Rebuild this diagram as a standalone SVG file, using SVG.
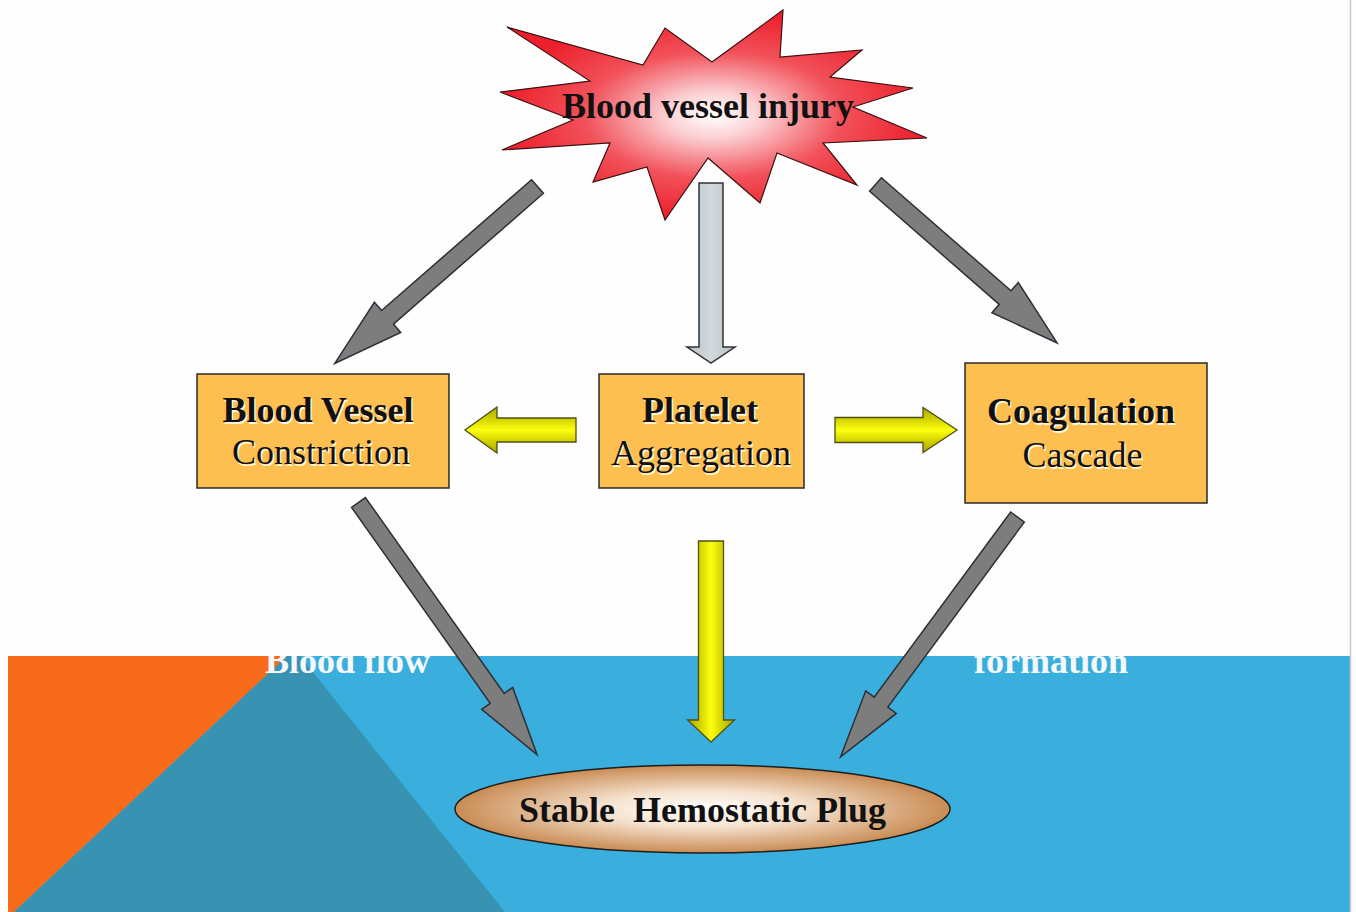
<svg xmlns="http://www.w3.org/2000/svg" width="1356" height="912" viewBox="0 0 1356 912">
  <defs>
    <radialGradient id="starGrad" cx="0.5" cy="0.5" r="0.5">
      <stop offset="0" stop-color="#ffffff"/>
      <stop offset="0.22" stop-color="#fbd0d3"/>
      <stop offset="0.6" stop-color="#f2525b"/>
      <stop offset="1" stop-color="#ec1f2b"/>
    </radialGradient>
    <radialGradient id="plugGrad" cx="0.5" cy="0.5" r="0.5">
      <stop offset="0" stop-color="#ffffff"/>
      <stop offset="0.4" stop-color="#f6e3d0"/>
      <stop offset="1" stop-color="#c98c54"/>
    </radialGradient>
    <linearGradient id="yellowGrad" x1="0" y1="0" x2="0" y2="1">
      <stop offset="0" stop-color="#a8a800"/>
      <stop offset="0.28" stop-color="#d6d600"/>
      <stop offset="0.5" stop-color="#ffff10"/>
      <stop offset="0.72" stop-color="#d6d600"/>
      <stop offset="1" stop-color="#a8a800"/>
    </linearGradient>
    <linearGradient id="lightGrad" x1="0" y1="0" x2="0" y2="1">
      <stop offset="0" stop-color="#b9c1c5"/>
      <stop offset="0.5" stop-color="#d3d9dc"/>
      <stop offset="1" stop-color="#b9c1c5"/>
    </linearGradient>
    <clipPath id="bandClip">
      <rect x="8" y="656" width="1342" height="256"/>
    </clipPath>
  </defs>
  <style>
    .box { fill: #fcbf50; stroke: #2a2a2a; stroke-width: 1.5; }
    .t { font-family: "Liberation Serif", "Times New Roman", serif; font-size: 36px; text-anchor: middle; fill: #111; }
    .b { font-weight: bold; }
    .sh { fill: #fff6dc; }
    .bg { font-family: "Liberation Serif", "Times New Roman", serif; font-size: 36px; font-weight: bold; fill: #f4f8fb; }
    .gray { fill: #7d7d7d; stroke: #2b2f36; stroke-width: 1.5; stroke-linejoin: miter; }
    .yellow { fill: url(#yellowGrad); stroke: #4f4f1a; stroke-width: 1.3; }
    .light { fill: url(#lightGrad); stroke: #2f3336; stroke-width: 1.5; }
  </style>

  <!-- background -->
  <g id="background">
    <rect x="0" y="0" width="1356" height="912" fill="#fefefe"/>
    <rect x="8" y="656" width="1342" height="256" fill="#3aafdd"/>
    <polygon points="8,656 287,656 14,912 8,912" fill="#f76b1b"/>
    <polygon points="287,656 300,656 505,912 14,912" fill="#3893b3"/>
    <line x1="1350.5" y1="0" x2="1350.5" y2="912" stroke="#c9c9c9" stroke-width="1.5"/>
    <g clip-path="url(#bandClip)">
      <text class="bg" x="265" y="673">Blood flow</text>
      <text class="bg" x="974" y="673">formation</text>
    </g>
  </g>

  <!-- connectors -->
  <g id="connectors">
    <path class="gray" transform="translate(537.5,186.5) rotate(138.9)" d="M0,-9 L199,-9 L199,-20 L269,0 L199,20 L199,9 L0,9 Z"/>
    <path class="gray" transform="translate(875.5,184.5) rotate(41.1)" d="M0,-9 L172,-9 L172,-20 L241,0 L172,20 L172,9 L0,9 Z"/>
    <path class="light" transform="translate(711,183) rotate(90)" d="M0,-12 L164,-12 L164,-24 L180,0 L164,24 L164,12 L0,12 Z"/>
    <path class="yellow" transform="translate(576,430) rotate(180)" d="M0,-12 L79,-12 L79,-23 L111,0 L79,23 L79,12 L0,12 Z"/>
    <path class="yellow" transform="translate(835,430)" d="M0,-12.5 L88,-12.5 L88,-22.5 L122,0 L88,22.5 L88,12.5 L0,12.5 Z"/>
    <path class="yellow" transform="translate(711,541) rotate(90)" d="M0,-12.5 L179,-12.5 L179,-23.5 L201,0 L179,23.5 L179,12.5 L0,12.5 Z"/>
    <path class="gray" transform="translate(358.5,502.5) rotate(54.7)" d="M0,-8.5 L240,-8.5 L240,-19 L309,0 L240,19 L240,8.5 L0,8.5 Z"/>
    <path class="gray" transform="translate(1017.5,517) rotate(126.4)" d="M0,-8.5 L230,-8.5 L230,-19 L298,0 L230,19 L230,8.5 L0,8.5 Z"/>
  </g>

  <!-- nodes -->
  <g id="injury">
    <polygon points="500,92 590,81 507,27 643,65 665,28 712,62 783,10 780,57 862,50 830,77 913,88 853,107 927,138 823,143 857,185 777,153 760,203 708,158 665,220 647,167 593,182 610,143 502,150 573,120" fill="url(#starGrad)" stroke="#3a1010" stroke-width="1.2" stroke-linejoin="miter"/>
    <text class="t b" x="708" y="118">Blood vessel injury</text>
  </g>

  <g id="constriction">
    <rect class="box" x="197" y="374" width="252" height="114"/>
    <text class="t b sh" x="319.5" y="423.5">Blood Vessel</text>
    <text class="t b" x="318" y="422">Blood Vessel</text>
    <text class="t sh" x="322.5" y="465.5">Constriction</text>
    <text class="t" x="321" y="464">Constriction</text>
  </g>

  <g id="platelet">
    <rect class="box" x="599" y="374" width="205" height="114"/>
    <text class="t b sh" x="701.5" y="423.5">Platelet</text>
    <text class="t b" x="700" y="422">Platelet</text>
    <text class="t sh" x="702.5" y="466.5">Aggregation</text>
    <text class="t" x="701" y="465">Aggregation</text>
  </g>

  <g id="coagulation">
    <rect class="box" x="965" y="363" width="242" height="140"/>
    <text class="t b sh" x="1082.5" y="424.5">Coagulation</text>
    <text class="t b" x="1081" y="423">Coagulation</text>
    <text class="t sh" x="1084" y="468.5">Cascade</text>
    <text class="t" x="1082.5" y="467">Cascade</text>
  </g>

  <g id="plug">
    <ellipse cx="702.5" cy="809" rx="247.5" ry="44" fill="url(#plugGrad)" stroke="#1d1d1d" stroke-width="1.5"/>
    <text class="t b" x="702.5" y="822" xml:space="preserve">Stable  Hemostatic Plug</text>
  </g>
</svg>
